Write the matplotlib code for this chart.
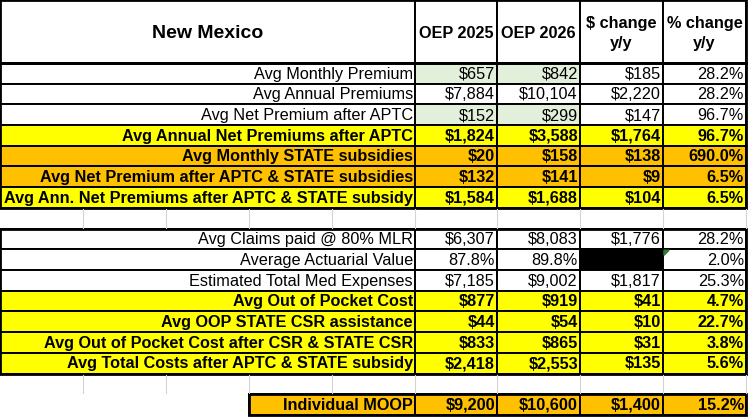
import matplotlib
matplotlib.use('Agg')
import matplotlib.pyplot as plt
from matplotlib.patches import Rectangle

plt.rcParams['font.family'] = ['Liberation Sans Narrow', 'Liberation Sans', 'DejaVu Sans']

# table data
title = 'New Mexico'
col_headers = ['OEP 2025', 'OEP 2026', '$ change\ny/y', '% change\ny/y']
row_labels = ['Avg Monthly Premium', 'Avg Annual Premiums', 'Avg Net Premium after APTC',
              'Avg Annual Net Premiums after APTC', 'Avg Monthly STATE subsidies',
              'Avg Net Premium after APTC & STATE subsidies',
              'Avg Ann. Net Premiums after APTC & STATE subsidy', '',
              'Avg Claims paid @ 80% MLR', 'Average Actuarial Value', 'Estimated Total Med Expenses',
              'Avg Out of Pocket Cost', 'Avg OOP STATE CSR assistance',
              'Avg Out of Pocket Cost after CSR & STATE CSR',
              'Avg Total Costs after APTC & STATE subsidy', '', 'Individual MOOP']
oep_2025 = [657, 7884, 152, 1824, 20, 132, 1584, None, 6307, 87.8, 7185, 877, 44, 833, 2418, None, 9200]
oep_2026 = [842, 10104, 299, 3588, 158, 141, 1688, None, 8083, 89.8, 9002, 919, 54, 865, 2553, None, 10600]
dollar_change = [185, 2220, 147, 1764, 138, 9, 104, None, 1776, None, 1817, 41, 10, 31, 135, None, 1400]
pct_change = [28.2, 28.2, 96.7, 96.7, 690.0, 6.5, 6.5, None, 28.2, 2.0, 25.3, 4.7, 22.7, 3.8, 5.6, None, 15.2]
pct_rows = [9]           # rows whose values are percentages
green_cells = [0, 2]     # rows with shaded OEP input cells
row_style = ['plain', 'plain', 'plain', 'yellow', 'orange', 'orange', 'yellow', 'blank',
             'plain', 'plain', 'plain', 'yellow', 'yellow', 'yellow', 'yellow', 'blank', 'orange']

fills = {'plain': 'white', 'yellow': '#FFFF00', 'orange': '#FFC000', 'blank': 'white'}
green = '#E2EFDA'

W, H = 748, 419
fig = plt.figure(figsize=(W / 100, H / 100), dpi=100)
ax = fig.add_axes([0, 0, 1, 1])
ax.set_xlim(0, W)
ax.set_ylim(H, 0)
ax.axis('off')

col_x = [0, 415, 497, 580, 663, 746]
head_h = 63
row_h = 20.7
fs = 11.7
lw = 1.4


def fmt(v, pct):
    if v is None:
        return ''
    if pct:
        return '%.1f%%' % v
    return '${:,.0f}'.format(v)


def box(x0, y0, x1, y1, fc, lwd=lw):
    ax.add_patch(Rectangle((x0, y0), x1 - x0, y1 - y0, facecolor=fc, edgecolor='black', linewidth=lwd))


# header
box(col_x[0], 0.5, col_x[1], head_h, 'white')
ax.text((col_x[0] + col_x[1]) / 2, head_h / 2 + 2, title, ha='center', va='center',
        fontsize=14, fontweight='bold', family=['Liberation Sans', 'DejaVu Sans'])
for j, h in enumerate(col_headers):
    box(col_x[j + 1], 0.5, col_x[j + 2], head_h, 'white')
    ax.text((col_x[j + 1] + col_x[j + 2]) / 2, head_h / 2 + 2, h, ha='center', va='center',
            fontsize=fs, fontweight='bold', linespacing=1.35)

values = [oep_2025, oep_2026, dollar_change, pct_change]
for i, lab in enumerate(row_labels):
    y0 = head_h + i * row_h
    y1 = y0 + row_h
    yc = (y0 + y1) / 2 + 0.8
    style = row_style[i]
    if style == 'blank':
        for gx in [83, 166, 249, 332, 415, 497, 580, 663, 746]:
            ax.plot([gx, gx], [y0 + 1, y1 - 1], color='#D4D4D4', linewidth=0.8)
        continue
    bold = style in ('yellow', 'orange')
    weight = 'bold' if bold else 'normal'
    x_lab = 249 if i == len(row_labels) - 1 else col_x[0]
    box(x_lab, y0, col_x[1], y1, fills[style])
    ax.text(col_x[1] - 2, yc, lab, ha='right', va='center', fontsize=fs, fontweight=weight)
    for j, series in enumerate(values):
        fc = fills[style]
        if j < 2 and i in green_cells:
            fc = green
        v = series[i]
        if j == 2 and v is None:
            fc = 'black'
        box(col_x[j + 1], y0, col_x[j + 2], y1, fc)
        pct = (j == 3) or (i in pct_rows)
        ax.text(col_x[j + 2] - 2, yc, fmt(v, pct), ha='right', va='center',
                fontsize=fs, fontweight=weight)

# thicker block outlines
for top, bot in [(0.5, head_h), (head_h, head_h + 7 * row_h), (head_h + 8 * row_h, head_h + 15 * row_h)]:
    ax.add_patch(Rectangle((0, top), col_x[-1], bot - top, fill=False, edgecolor='black', linewidth=2.0))
ax.add_patch(Rectangle((249, head_h + 16 * row_h), col_x[-1] - 249, row_h, fill=False,
                       edgecolor='black', linewidth=2.0))

# small error marker in the % change cell of the actuarial value row
yv = head_h + 9 * row_h
ax.fill([col_x[4] + 1, col_x[4] + 6, col_x[4] + 1], [yv + 1, yv + 1, yv + 6], color='#2E7D32')

fig.savefig('out.png', dpi=100)
